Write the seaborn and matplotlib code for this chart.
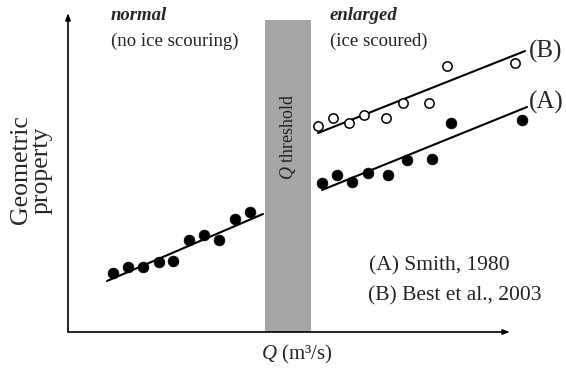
import numpy as np
import pandas as pd
import matplotlib
matplotlib.use("Agg")
import matplotlib.pyplot as plt
import seaborn as sns

sns.set_style("white")
plt.rcParams['font.family'] = ['Liberation Serif', 'DejaVu Serif']
plt.rcParams['mathtext.fontset'] = 'custom'
plt.rcParams['mathtext.it'] = 'Liberation Serif:italic'
plt.rcParams['mathtext.rm'] = 'Liberation Serif'

# --- data (arbitrary units) ---
normal_q = [45, 60, 75, 91, 105, 121, 136, 151, 167, 182]
normal_g = [59, 65, 65, 70, 71, 92, 97, 92, 113, 120]
normal_fit_q = [39, 195]
normal_fit_g = [51, 118]

best_q = [250, 265, 281, 296, 318, 335, 361, 379, 447]
best_g = [206, 214, 209, 217, 214, 229, 229, 266, 269]
best_fit_q = [250, 457]
best_fit_g = [199, 281]

smith_q = [254, 269, 284, 300, 320, 339, 364, 383, 454]
smith_g = [149, 157, 150, 159, 157, 172, 173, 209, 212]
smith_fit_q = [254, 459]
smith_fit_g = [142, 225]

threshold_q = [197, 243]
x_axis_end = 442
y_axis_end = 319

fig = plt.figure(figsize=(5.66, 3.69), dpi=100)
ax = fig.add_axes([68/566, 37/369, 498/566, 332/369])
ax.set_xlim(0, 498)
ax.set_ylim(0, 332)
for s in ax.spines.values():
    s.set_visible(False)
ax.set_xticks([]); ax.set_yticks([])

# axes arrows
arrow = dict(arrowstyle='-|>,head_length=0.4,head_width=0.15', lw=1.2, color='black', shrinkA=0, shrinkB=0)
ax.annotate("", xy=(x_axis_end, 0), xytext=(0, 0), arrowprops=arrow)
ax.annotate("", xy=(0, y_axis_end), xytext=(0, 0), arrowprops=arrow)

# threshold band
ax.fill_between(threshold_q, 0, 312, color='#a6a6a6', lw=0, zorder=0)
ax.text(np.mean(threshold_q), 195, r"$Q$ threshold", rotation=90, ha='center', va='center', fontsize=13, color='#222222')

# scatter points
sns.scatterplot(x=normal_q, y=normal_g, ax=ax, color='black', s=60, edgecolor='black', linewidth=0.5, zorder=3)
sns.scatterplot(x=smith_q, y=smith_g, ax=ax, color='black', s=60, edgecolor='black', linewidth=0.5, zorder=3)
sns.scatterplot(x=best_q, y=best_g, ax=ax, facecolor='white', s=45, edgecolor='black', linewidth=1.1, zorder=3)

# fit lines
sns.lineplot(x=normal_fit_q, y=normal_fit_g, ax=ax, color='black', lw=1.5)
sns.lineplot(x=smith_fit_q, y=smith_fit_g, ax=ax, color='black', lw=1.5)
sns.lineplot(x=best_fit_q, y=best_fit_g, ax=ax, color='black', lw=1.5)

ax.text(best_fit_q[1] + 4, best_fit_g[1], "(B)", fontsize=18, ha='left', va='center')
ax.text(smith_fit_q[1] + 2, smith_fit_g[1] + 5, "(A)", fontsize=18, ha='left', va='center')

# annotations
ax.text(43, 316, "normal", fontsize=13.5, fontweight='bold', fontstyle='italic', ha='left', va='center')
ax.text(43, 291, "(no ice scouring)", fontsize=13.5, ha='left', va='center', color='#222222')
ax.text(262, 316, "enlarged", fontsize=13.5, fontweight='bold', fontstyle='italic', ha='left', va='center')
ax.text(262, 291, "(ice scoured)", fontsize=13.5, ha='left', va='center', color='#222222')

ax.text(301, 66, "(A) Smith, 1980", fontsize=15.5, ha='left', va='center', color='#222222')
ax.text(300, 36, "(B) Best et al., 2003", fontsize=15.5, ha='left', va='center', color='#222222')

fig.text(31/566, 1 - 170/369, "Geometric\nproperty", rotation=90, ha='center', va='center', fontsize=18.5, linespacing=0.92)
fig.text(297/566, 1 - 354/369, r"$Q$ (m³/s)", ha='center', va='center', fontsize=15)

fig.savefig("out.png", dpi=100)
